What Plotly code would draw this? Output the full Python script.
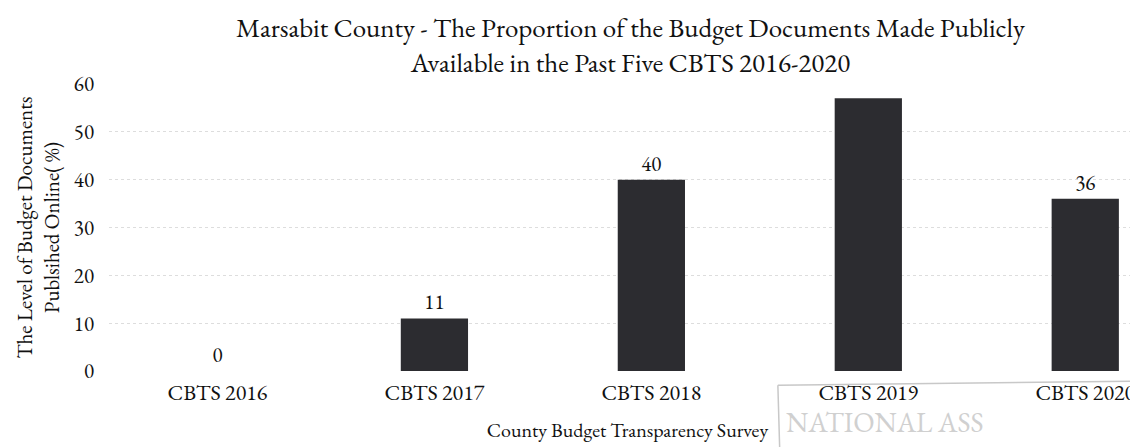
import plotly.graph_objects as go

surveys = ["CBTS 2016", "CBTS 2017", "CBTS 2018", "CBTS 2019", "CBTS 2020"]
proportion = [0, 11, 40, 57, 36]
shown_labels = ["0", "11", "40", "", "36"]

serif = "EB Garamond, Garamond, Liberation Serif, DejaVu Serif, serif"

fig = go.Figure()

fig.add_trace(go.Bar(x=surveys,
                     y=proportion,
                     width=0.31,
                     marker=dict(color="#2c2c30", line=dict(width=0)),
                     text=shown_labels,
                     textposition="outside",
                     cliponaxis=False,
                     textfont=dict(family=serif, size=21, color="#111111")))

# faded receiving stamp from the scanned page
fig.add_shape(type="path",
              path="M 0.645 -0.05 L 1.0 -0.035 M 0.645 -0.05 L 0.647 -0.3",
              xref="x domain", yref="y domain",
              line=dict(color="#c8c8c8", width=1.5))
fig.add_annotation(text="NATIONAL ASS",
                   xref="paper", yref="paper",
                   x=0.652, y=-0.112, xanchor="left", yanchor="top",
                   showarrow=False, borderpad=0,
                   font=dict(family=serif, size=28, color="#d0d0d0"))

fig.update_layout(title=dict(text="Marsabit County - The Proportion of the Budget Documents Made Publicly<br>Available in the Past Five CBTS 2016-2020",
                             x=0.547, xanchor="center", y=0.935, yanchor="middle",
                             font=dict(family=serif, size=27, color="#111111")),
                  width=1138, height=447,
                  margin=dict(l=101, r=0, t=76, b=84),
                  paper_bgcolor="white", plot_bgcolor="white",
                  showlegend=False,
                  font=dict(family=serif, color="#111111"),
                  xaxis=dict(range=[-0.5, 4.28], automargin=False,
                             showgrid=False, showline=False, zeroline=False,
                             ticks="", ticklabelstandoff=6,
                             tickfont=dict(family=serif, size=22),
                             title=dict(text="County Budget Transparency Survey",
                                        font=dict(family=serif, size=20),
                                        standoff=16)),
                  yaxis=dict(range=[0, 60], dtick=10, automargin=False,
                             showgrid=True, gridcolor="#dddddd", griddash="dot",
                             gridwidth=1, zeroline=False, showline=False,
                             ticks="", ticklabelstandoff=14,
                             tickfont=dict(family=serif, size=21),
                             title=dict(text="The Level of Budget Documents<br>Publsihed Online( %)",
                                        font=dict(family=serif, size=21),
                                        standoff=8)))

fig.write_html("out.html")
